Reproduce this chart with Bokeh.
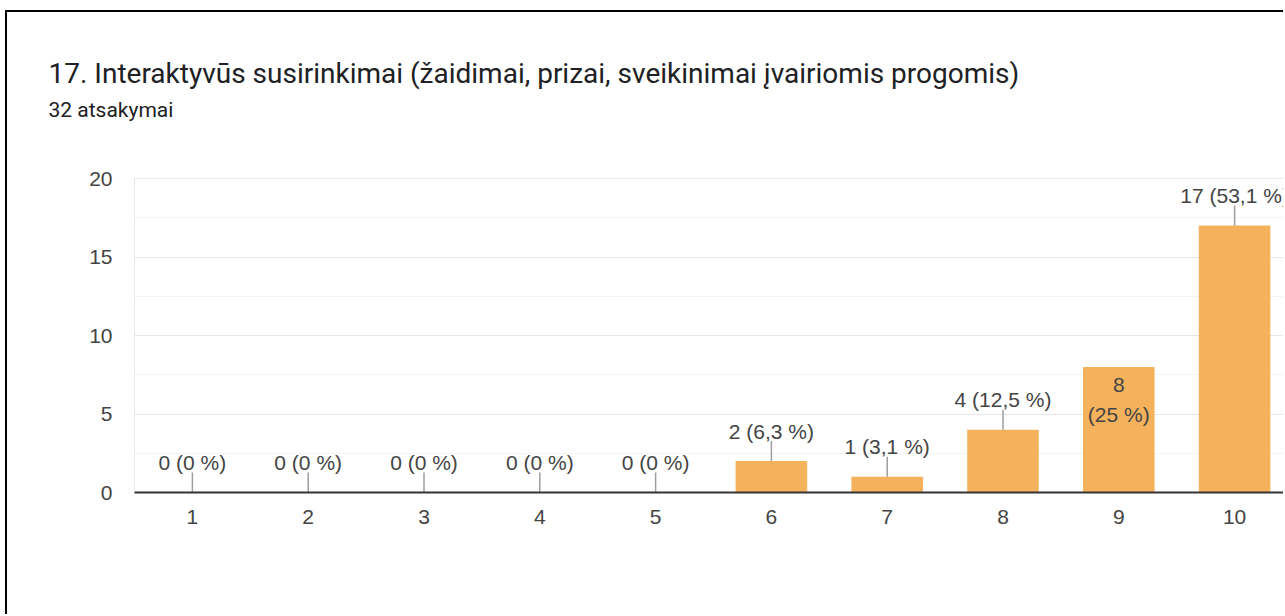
from bokeh.plotting import figure
from bokeh.models import FixedTicker, Range1d, Title
from bokeh.embed import file_html
from bokeh.resources import INLINE
from bokeh.core.properties import value

# ---- data ----
categories = ["1", "2", "3", "4", "5", "6", "7", "8", "9", "10"]
counts = [0, 0, 0, 0, 0, 2, 1, 4, 8, 17]
percents = ["0", "0", "0", "0", "0", "6,3", "3,1", "12,5", "25", "53,1"]
label_inside = [False, False, False, False, False, False, False, False, True, False]
title_text = "17. Interaktyvūs susirinkimai (žaidimai, prizai, sveikinimai įvairiomis progomis)"
subtitle_text = "32 atsakymai"
y_ticks = [0, 5, 10, 15, 20]
y_minor = [2.5, 7.5, 12.5, 17.5]

# ---- layout (pixels, canvas coordinates) ----
OX, OY = 7, 12                      # canvas origin on the page (inside card border)
W, H = 1285 - OX, 604
FL, FT, FB = 134 - OX, 178 - OY, 492 - OY
FH = FB - FT
STEP = 115.8                        # px per category
FW = W - FL
PX_PER_UNIT = FH / 20.0
STEM_PX = 20

xs = [i + 1 for i in range(len(categories))]
out_x, out_y, out_t, st_y0, st_y1, st_x = [], [], [], [], [], []
in_x, in_y, in_t = [], [], []
for x, c, pc, ins in zip(xs, counts, percents, label_inside):
    if ins:
        in_x.append(x); in_y.append(c); in_t.append(f"{c}\n({pc} %)")
    else:
        out_x.append(x); out_y.append(c); out_t.append(f"{c} ({pc} %)")
        st_x.append(x); st_y0.append(c); st_y1.append(c + STEM_PX / PX_PER_UNIT)

p = figure(width=W, height=H, output_backend="svg", toolbar_location=None,
           x_range=Range1d(0.5, 0.5 + FW / STEP), y_range=Range1d(0, 20),
           min_border_left=FL, min_border_right=0, min_border_top=FT,
           min_border_bottom=H - FB)
p.styles = {"margin-left": "5px", "margin-top": "10px",
            "border-left": "2px solid #000", "border-top": "2px solid #000"}
p.background_fill_color = "white"
p.border_fill_color = "white"
p.outline_line_color = "#e8e8e8"

p.xgrid.grid_line_color = None
p.ygrid.grid_line_color = "#e6e6e6"
p.ygrid.minor_grid_line_color = "#f3f3f3"

p.yaxis.ticker = FixedTicker(ticks=y_ticks, minor_ticks=y_minor)
p.yaxis.axis_line_color = None
p.yaxis.major_tick_line_color = None
p.yaxis.minor_tick_line_color = None
p.yaxis.major_label_standoff = 16
p.yaxis.major_label_text_font = "Liberation Sans"
p.yaxis.major_label_text_font_size = "21px"
p.yaxis.major_label_text_color = "#444444"

p.xaxis.ticker = FixedTicker(ticks=xs)
p.xaxis.major_label_overrides = {x: c for x, c in zip(xs, categories)}
p.xaxis.axis_line_color = "#333333"
p.xaxis.axis_line_width = 2
p.xaxis.major_tick_line_color = None
p.xaxis.minor_tick_line_color = None
p.xaxis.major_label_standoff = 11
p.xaxis.major_label_text_font = "Liberation Sans"
p.xaxis.major_label_text_font_size = "21px"
p.xaxis.major_label_text_color = "#444444"

p.vbar(x=xs, top=counts, width=0.618, fill_color="#F4B25C", line_color=None)

p.segment(x0=st_x, y0=st_y0, x1=st_x, y1=st_y1, line_color="#9e9e9e", line_width=1.5)
p.text(x=out_x, y=out_y, text=out_t, text_align="center", text_baseline="middle",
       y_offset=-30, text_font=value("Liberation Sans"), text_font_size="21px",
       text_color="#444444")
p.text(x=in_x, y=in_y, text=in_t, text_align="center", text_baseline="top",
       y_offset=6, text_line_height=1.3, text_font=value("Liberation Sans"),
       text_font_size="21px", text_color="#444444")

# title & subtitle (first added sits closest to the frame)
p.title.text = ""
p.add_layout(Title(text=" ", standoff=52, text_font_size="1px"), "above")   # spacer
p.add_layout(Title(text=subtitle_text, align="left", offset=48 - OX - FL,
                   standoff=4, text_font="Roboto", text_font_size="21px",
                   text_font_style="normal", text_color="#202124"), "above")
p.add_layout(Title(text=title_text, align="left", offset=48 - OX - FL,
                   standoff=7, text_font="Roboto", text_font_size="28px",
                   text_font_style="normal", text_color="#202124"), "above")

open("out.html", "w").write(file_html(p, INLINE))
